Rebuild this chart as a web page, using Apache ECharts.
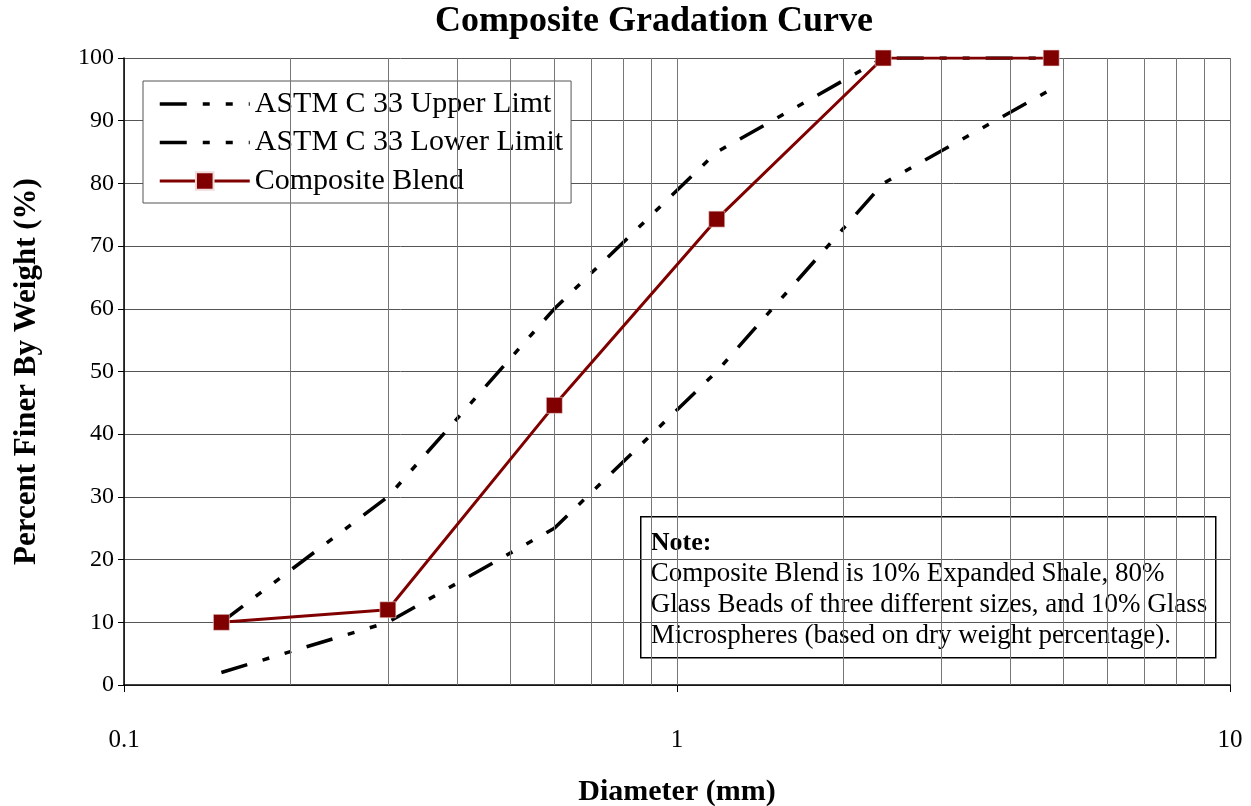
<!DOCTYPE html>
<html>
<head>
<meta charset="utf-8">
<script src="https://cdn.jsdelivr.net/npm/echarts@6/dist/echarts.min.js"></script>
<style>
html,body{margin:0;padding:0;background:#fff;}
#chart{width:1251px;height:806px;}
</style>
</head>
<body>
<div id="chart"></div>
<script>
// ---- data ----
const sieveSizes = [0.15, 0.3, 0.6, 1.18, 2.36, 4.75];        // mm
const upperLimit = [10, 30, 60, 85, 100, 100];
const lowerLimit = [2, 10, 25, 50, 80, 95];
const compositeBlend = [10, 12, 44.6, 74.3, 100, 100];
const seriesNames = ['ASTM C 33 Upper Limt', 'ASTM C 33 Lower Limit', 'Composite Blend'];
const minorGridValues = [0.2,0.3,0.4,0.5,0.6,0.7,0.8,0.9,1,2,3,4,5,6,7,8,9];
const titleText = 'Composite Gradation Curve';
const xAxisName = 'Diameter (mm)';
const yAxisName = 'Percent Finer By Weight (%)';
const noteTitle = 'Note:';
const noteLines = [
  'Composite Blend is 10% Expanded Shale, 80%',
  'Glass Beads of three different sizes, and 10% Glass',
  'Microspheres (based on dry weight percentage).'
];

const pair = (ys) => sieveSizes.map((x, i) => [x, ys[i]]);
const FONT = '"Liberation Serif", "Times New Roman", serif';
const dashPattern = [27, 16, 7, 16, 7, 16];

const chart = echarts.init(document.getElementById('chart'));
const option = {
  backgroundColor: '#fff',
  animation: false,
  title: {
    text: titleText,
    left: 435,
    top: 0,
    padding: [4, 0, 0, 0],
    textStyle: { fontFamily: FONT, fontSize: 36, fontWeight: 'bold', color: '#000' }
  },
  legend: {
    data: [
      { name: seriesNames[0], itemStyle: { opacity: 0 }, lineStyle: { width: 3.5 } },
      { name: seriesNames[1], itemStyle: { opacity: 0 }, lineStyle: { width: 3.5 } },
      { name: seriesNames[2], lineStyle: { width: 3 } }
    ],
    orient: 'vertical',
    left: 143,
    top: 81,
    padding: [8, 8, 7, 15],
    itemGap: 8.5,
    itemWidth: 90,
    itemHeight: 22,
    backgroundColor: '#fff',
    borderColor: '#555',
    borderWidth: 1,
    borderRadius: 0,
    textStyle: { fontFamily: FONT, fontSize: 30, color: '#000' }
  },
  grid: { left: 124, right: 21, top: 58, bottom: 121, containLabel: false, outerBoundsMode: 'none' },
  xAxis: {
    type: 'log',
    logBase: 10,
    min: 0.1,
    max: 10,
    name: xAxisName,
    nameLocation: 'middle',
    nameGap: 92,
    nameTextStyle: { fontFamily: FONT, fontSize: 30, fontWeight: 'bold', color: '#000' },
    axisLine: { show: true, onZero: false, lineStyle: { color: '#000', width: 1.5 } },
    axisTick: { show: true, length: 7, inside: false, lineStyle: { color: '#000' } },
    axisLabel: {
      margin: 43,
      fontFamily: FONT, fontSize: 25, color: '#000',
      formatter: (v) => String(+v.toPrecision(6))
    },
    splitLine: { show: true, lineStyle: { color: '#777', width: 1 } },
    minorTick: { show: false },
    minorSplitLine: { show: false }
  },
  yAxis: {
    type: 'value',
    min: 0,
    max: 100,
    interval: 10,
    name: yAxisName,
    nameLocation: 'middle',
    nameGap: 82,
    nameTextStyle: { fontFamily: FONT, fontSize: 31, fontWeight: 'bold', color: '#000' },
    axisLine: { show: true, lineStyle: { color: '#000', width: 1.5 } },
    axisTick: { show: true, length: 6, inside: false, lineStyle: { color: '#000' } },
    axisLabel: { margin: 10, fontFamily: FONT, fontSize: 24, color: '#000' },
    splitLine: { show: true, lineStyle: { color: '#555', width: 1 } }
  },
  series: [
    {
      name: 'minor-grid',
      type: 'line',
      data: [[0.1, 0]],
      showSymbol: false,
      symbol: 'none',
      lineStyle: { opacity: 0 },
      silent: true,
      z: 1,
      markLine: {
        silent: true,
        symbol: ['none', 'none'],
        label: { show: false },
        animation: false,
        lineStyle: { color: '#777', width: 1, type: 'solid' },
        data: minorGridValues.map(v => ({ xAxis: v }))
      }
    },
    {
      name: seriesNames[0],
      type: 'line',
      data: pair(upperLimit),
      symbol: 'none',
      showSymbol: false,
      z: 3,
      lineStyle: { color: '#000', width: 3.5, type: dashPattern, cap: 'butt' },
      itemStyle: { color: '#000' }
    },
    {
      name: seriesNames[1],
      type: 'line',
      data: pair(lowerLimit),
      symbol: 'none',
      showSymbol: false,
      z: 3,
      lineStyle: { color: '#000', width: 3.5, type: dashPattern, cap: 'butt' },
      itemStyle: { color: '#000' }
    },
    {
      name: seriesNames[2],
      type: 'line',
      data: pair(compositeBlend),
      symbol: 'rect',
      symbolSize: 16,
      z: 5,
      lineStyle: { color: '#800000', width: 3 },
      itemStyle: { color: '#800000', borderColor: '#f0dada', borderWidth: 0.6 }
    }
  ],
  graphic: [
    {
      type: 'group',
      left: 640,
      top: 516,
      z: 100,
      children: [
        {
          type: 'rect',
          shape: { x: 0, y: 0, width: 575, height: 141 },
          style: { fill: '#fff', stroke: '#000', lineWidth: 1.5 }
        },
        {
          type: 'text',
          x: 10,
          y: 11,
          style: {
            text: '{b|' + noteTitle + '}\n' + noteLines.map(l => '{n|' + l + '}').join('\n'),
            rich: {
              b: { fontFamily: FONT, fontSize: 26, fontWeight: 'bold', lineHeight: 31, fill: '#000' },
              n: { fontFamily: FONT, fontSize: 27, lineHeight: 31, fill: '#000' }
            }
          }
        }
      ]
    }
  ]
};
chart.setOption(option);
</script>
</body>
</html>
